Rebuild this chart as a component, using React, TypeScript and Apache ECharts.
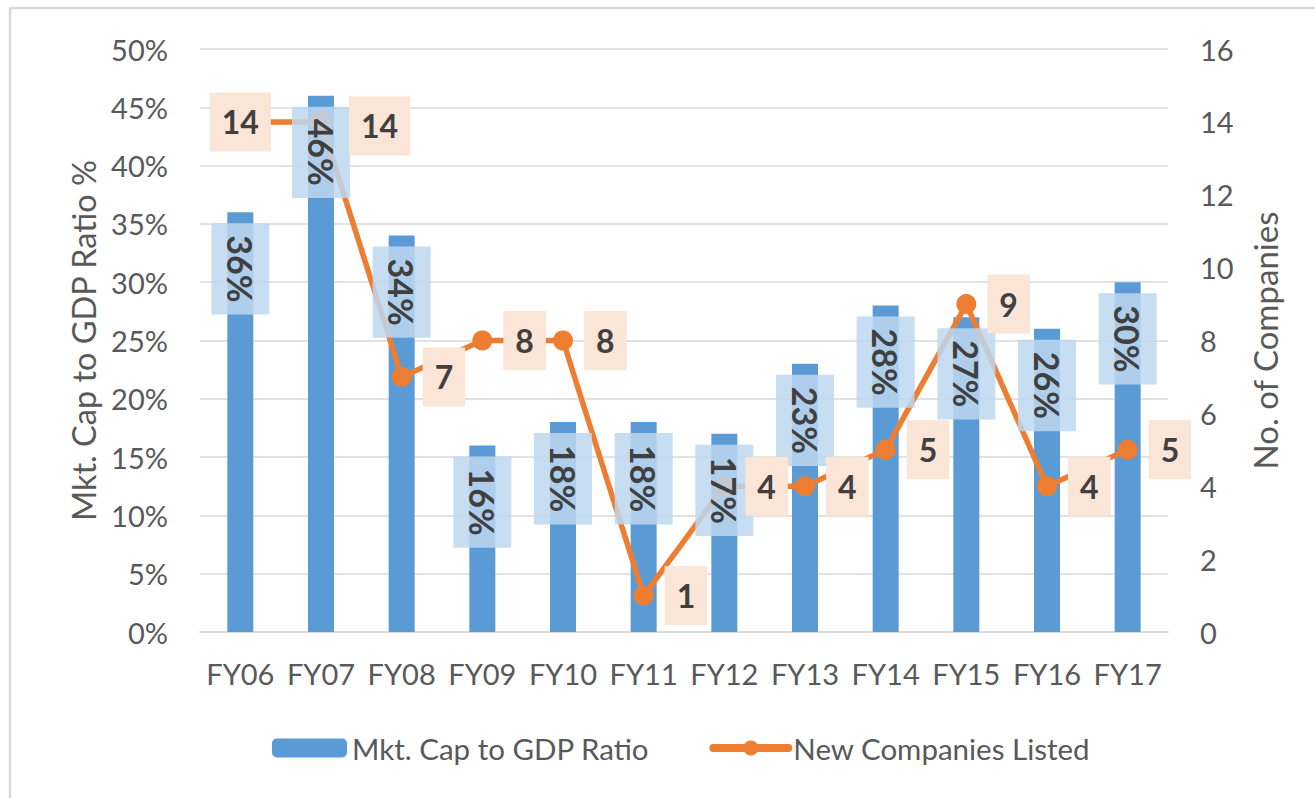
import React, { useEffect, useRef } from 'react';
import * as echarts from 'echarts';

const categories = ['FY06', 'FY07', 'FY08', 'FY09', 'FY10', 'FY11', 'FY12', 'FY13', 'FY14', 'FY15', 'FY16', 'FY17'];
const mktCapRatio = [36, 46, 34, 16, 18, 18, 17, 23, 28, 27, 26, 30];
const newCompanies = [14, 14, 7, 8, 8, 1, 4, 4, 5, 9, 4, 5];
const seriesNames = ['Mkt. Cap to GDP Ratio', 'New Companies Listed'];
const axisTitles = ['Mkt. Cap to GDP Ratio %', 'No. of Companies'];

export default function App() {
  const ref = useRef<HTMLDivElement>(null);
  useEffect(() => {
    const chart = echarts.init(ref.current as HTMLDivElement, null, { renderer: 'svg' });
    const font = 'Lato, "Open Sans", sans-serif';
    const tickColor = '#595959';
    const lineLabelData = newCompanies.map((v, i) => {
      if (i === 0) return { value: v, label: { position: 'inside' } };
      if (i === 1) return { value: v, label: { offset: [7, 4] } };
      return { value: v };
    });
    chart.setOption({
      animation: false,
      backgroundColor: '#ffffff',
      textStyle: { fontFamily: font },
      grid: { left: 200, right: 147, top: 49, bottom: 166, containLabel: false },
      legend: {
        left: 267,
        top: 728,
        itemWidth: 75,
        itemHeight: 19,
        itemGap: 60,
        textStyle: { fontSize: 29.5, color: tickColor, fontFamily: font },
        data: [
          { name: seriesNames[0] },
          { name: seriesNames[1], lineStyle: { width: 8, cap: 'round' } },
        ],
      },
      graphic: [
        {
          type: 'rect',
          shape: { x: 10, y: 8, width: 1400, height: 900 },
          style: { fill: 'none', stroke: '#d9d9d9', lineWidth: 2.5 },
          silent: true,
        },
      ],
      xAxis: {
        type: 'category',
        data: categories,
        axisTick: { show: false },
        axisLine: { lineStyle: { color: '#d9d9d9', width: 1.5 } },
        axisLabel: { interval: 0, fontSize: 29, color: tickColor, margin: 27, fontFamily: font },
      },
      yAxis: [
        {
          type: 'value',
          min: 0,
          max: 50,
          interval: 5,
          name: axisTitles[0],
          nameLocation: 'middle',
          nameRotate: 90,
          nameGap: 94,
          nameTextStyle: { fontSize: 32.5, color: tickColor, fontFamily: font },
          axisLabel: { formatter: '{value}%', fontSize: 29, color: tickColor, margin: 32, fontFamily: font },
          axisLine: { show: false },
          axisTick: { show: false },
          splitLine: { lineStyle: { color: '#d9d9d9', width: 1.5 } },
        },
        {
          type: 'value',
          min: 0,
          max: 16,
          interval: 2,
          name: axisTitles[1],
          nameLocation: 'middle',
          nameRotate: 90,
          nameGap: 80,
          nameTextStyle: { fontSize: 33, color: tickColor, fontFamily: font },
          axisLabel: { fontSize: 29, color: tickColor, margin: 32, fontFamily: font },
          axisLine: { show: false },
          axisTick: { show: false },
          splitLine: { show: false },
        },
      ],
      series: [
        {
          name: seriesNames[0],
          type: 'bar',
          yAxisIndex: 0,
          data: mktCapRatio,
          barWidth: 26,
          barGap: '-100%',
          itemStyle: { color: '#5B9BD5' },
          z: 2,
        },
        {
          name: seriesNames[1],
          type: 'line',
          yAxisIndex: 1,
          data: newCompanies,
          symbol: 'circle',
          symbolSize: 20,
          z: 3,
          itemStyle: { color: '#ED7D31' },
          lineStyle: { color: '#ED7D31', width: 5.5 },
        },
        {
          name: 'barLabels',
          type: 'bar',
          yAxisIndex: 0,
          data: mktCapRatio,
          barWidth: 26,
          barGap: '-100%',
          silent: true,
          itemStyle: { color: 'rgba(0,0,0,0)' },
          z: 4,
          label: {
            show: true,
            position: 'insideTop',
            distance: 11,
            rotate: -90,
            align: 'left',
            verticalAlign: 'middle',
            formatter: '{c}%',
            fontSize: 34,
            fontWeight: 'bold',
            fontFamily: font,
            lineHeight: 38,
            color: '#404040',
            textBorderWidth: 0,
            padding: [10, 12],
            backgroundColor: 'rgba(189,215,238,0.85)',
          },
        },
        {
          name: 'lineLabels',
          type: 'line',
          yAxisIndex: 1,
          data: lineLabelData,
          symbol: 'circle',
          symbolSize: 20,
          silent: true,
          z: 5,
          itemStyle: { color: 'rgba(0,0,0,0)' },
          lineStyle: { color: 'rgba(0,0,0,0)', width: 0 },
          label: {
            show: true,
            position: 'right',
            distance: 11,
            fontSize: 32,
            fontWeight: 'bold',
            fontFamily: font,
            lineHeight: 39,
            color: '#404040',
            textBorderWidth: 0,
            padding: [10, 12],
            backgroundColor: '#FBE5D6',
          },
        },
      ],
    });
    return () => chart.dispose();
  }, []);
  return (
    <div
      ref={ref}
      style={{ position: 'fixed', left: 0, top: 0, width: 1315, height: 798, background: '#fff' }}
    />
  );
}
